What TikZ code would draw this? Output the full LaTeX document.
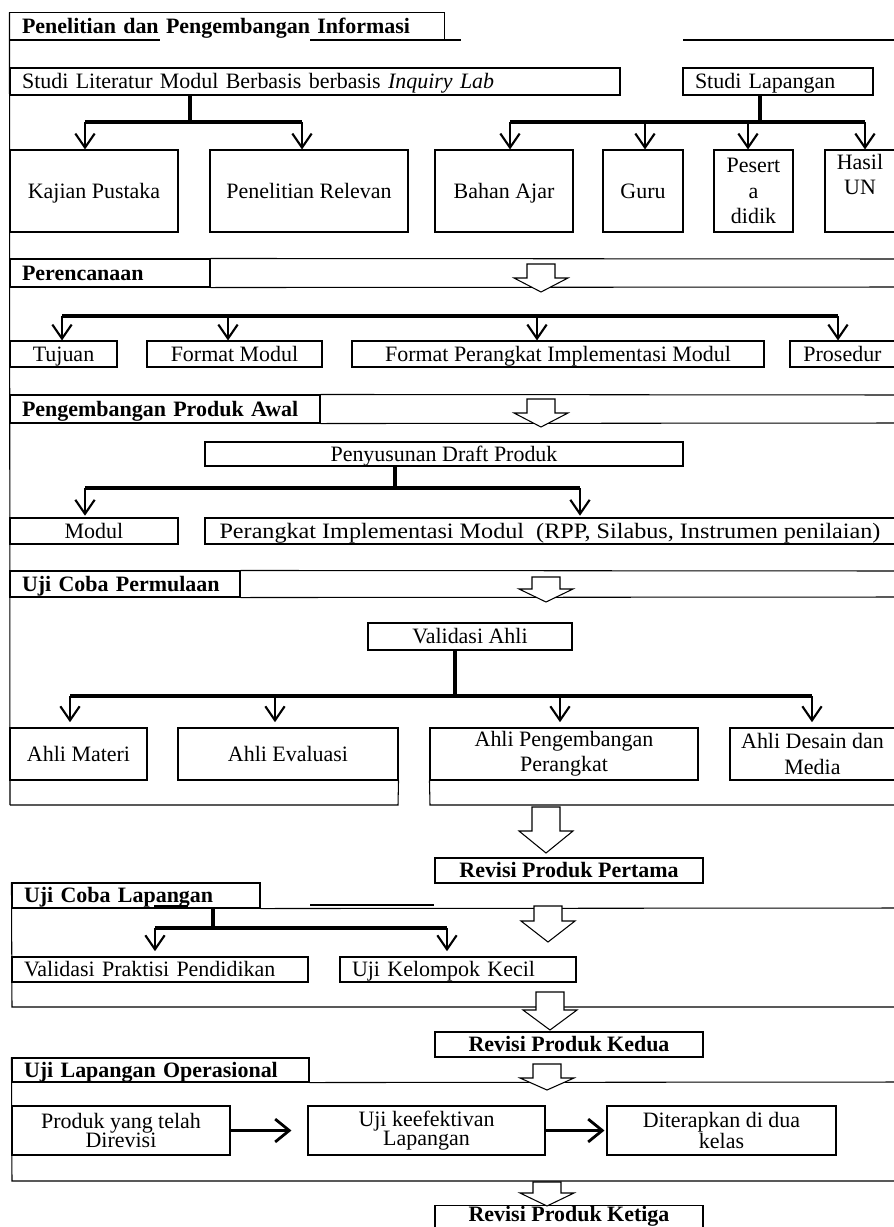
\documentclass[tikz,border=0pt]{standalone}
\usepackage{fontspec}
\setmainfont{Liberation Serif}
\usetikzlibrary{arrows.meta, positioning}

\newcommand{\hollowdown}[4]{%
    \draw[hollow] (#1-14,#2) -- (#1+14,#2) -- (#1+14,#3) -- (#1+27,#3) -- (#1,#4) -- (#1-27,#3) -- (#1-14,#3) -- cycle;}

\begin{document}
\begin{tikzpicture}[x=0.02cm, y=-0.02cm,
        cell/.style={draw, line width=0.6pt, inner sep=1pt, align=center, font=\fontsize{12.5}{14.5}\selectfont},
        box/.style={cell, text height=8pt, text depth=0pt},
        mbox/.style={cell},
        lbox/.style={box, align=left, inner xsep=0.24cm},
        head/.style={lbox, font=\fontsize{12.5}{14.5}\selectfont\bfseries},
        tight/.style={font=\fontsize{12.5}{11}\selectfont},
        wh/.style 2 args={minimum width=#1*0.02cm, minimum height=#2*0.02cm},
        frame/.style={line width=0.6pt},
        bar/.style={line width=1.8pt},
        down/.style={line width=1.2pt, -{Straight Barb[length=8pt, width=11pt]}},
        harrow/.style={line width=1.6pt, -{Straight Barb[length=8pt, width=13pt]}},
        hollow/.style={draw, fill=white, line width=0.6pt, line join=miter}]
        \useasboundingbox (0,0) rectangle (893,1227);

        % Penelitian dan Pengembangan Informasi
        \node (info) [head, draw=none, wh={434}{27}, text width=8.2cm] at (227,26.5) {Penelitian dan Pengembangan Informasi};
        \draw[frame] (info.south west) |- (info.north east) -- (info.south east);
        \draw[frame] (info.north west) -- (10,805);
        \draw[frame] (10,40) -- (160,40) (310,40) -- (461,40) (683,40) -- (900,40);

        \node (studlit) [lbox, wh={610}{27}, text width=11.72cm] at (315,81.5) {Studi Literatur Modul Berbasis berbasis \textit{Inquiry Lab}};
        \node (studlap) [lbox, wh={190}{27}, text width=3.32cm] at (778,81.5) {Studi Lapangan};

        \node (kajian)  [box, wh={168}{82}]  at (94,191)    {Kajian Pustaka};
        \node (relevan) [box, wh={198}{82}]  at (309,191)   {Penelitian Relevan};
        \node (bahan)   [box, wh={138}{82}]  at (504,191)   {Bahan Ajar};
        \node (guru)    [box, wh={80}{82}]   at (643,191)   {Guru};
        \node (peserta) [mbox, wh={79}{82}]  at (753.5,191) {Pesert\\a\\didik};
        \node (hasil)   [mbox, wh={70}{82}]  at (860,191)   {Hasil\\UN\\\strut};

        \coordinate (litbar) at (190,122);
        \coordinate (lapbar) at (760,122);
        \draw[bar] (litbar |- studlit.south) -- (litbar);
        \draw[bar] (lapbar |- studlap.south) -- (lapbar);
        \draw[bar] (85,122) -- (302,122);
        \draw[bar] (510,122) -- (865,122);
        \foreach \x/\n in {85/kajian, 302/relevan, 510/bahan, 645/guru, 748/peserta, 865/hasil} {
            \coordinate (t) at (\x,122);
            \draw[down] (t) -- (t |- \n.north);
        }

        % Perencanaan
        \node (perenc) [head, wh={200}{28}, text width=3.52cm] at (110,273) {Perencanaan};
        \draw[frame] (perenc.north east) -- (900,259) (perenc.south east) -- (900,287);

        \node (tujuan)   [box, wh={107}{26}] at (63.5,354)  {Tujuan};
        \node (fmodul)   [box, wh={175}{26}] at (234.5,354) {Format Modul};
        \node (fperang)  [box, wh={412}{26}] at (558,354)   {Format Perangkat Implementasi Modul};
        \node (prosedur) [box, wh={105}{26}] at (842.5,354) {Prosedur};

        \draw[bar] (62,316) -- (838,316);
        \foreach \x/\n in {62/tujuan, 228/fmodul, 537/fperang, 838/prosedur} {
            \coordinate (t) at (\x,316);
            \draw[down] (t) -- (t |- \n.north);
        }

        % Pengembangan Produk Awal
        \node (pawal) [head, wh={310}{28}, text width=5.72cm] at (165,409) {Pengembangan Produk Awal};
        \draw[frame] (pawal.north east) -- (900,395) (pawal.south east) -- (900,423);

        \node (draft)   [box, wh={478}{24}] at (444,454) {Penyusunan Draft Produk};
        \node (modul)   [box, wh={168}{26}] at (94,531)  {Modul};
        \node (perang)  [box, wh={690}{26}] at (550,531) {\addfontfeatures{FakeStretch=1.1}Perangkat Implementasi Modul~~(RPP, Silabus, Instrumen penilaian)};

        \coordinate (draftbar) at (395,488);
        \draw[bar] (draftbar |- draft.south) -- (draftbar);
        \draw[bar] (85,488) -- (580,488);
        \foreach \x/\n in {85/modul, 580/perang} {
            \coordinate (t) at (\x,488);
            \draw[down] (t) -- ([yshift=1pt]t |- \n.north);
        }

        % Uji Coba Permulaan
        \node (permul) [head, wh={230}{26}, text width=4.12cm] at (125,584) {Uji Coba Permulaan};
        \draw[frame] (permul.north east) -- (900,571) (permul.south east) -- (900,597);

        \node (validasi) [box, wh={204}{27}]  at (470,636.5) {Validasi Ahli};
        \node (materi)   [box, wh={137}{52}]  at (78.5,754)  {Ahli Materi};
        \node (evaluasi) [box, wh={220}{52}]  at (288,754)   {Ahli Evaluasi};
        \node (pengemb)  [mbox, wh={268}{52}] at (564,754)   {Ahli Pengembangan\\Perangkat};
        \node (desain)   [mbox, wh={165}{52}] at (812.5,754) {Ahli Desain dan\\Media};

        \coordinate (valbar) at (455,696);
        \draw[bar] (valbar |- validasi.south) -- (valbar);
        \draw[bar] (70,696) -- (812,696);
        \foreach \x/\n in {70/materi, 275/evaluasi, 560/pengemb, 812/desain} {
            \coordinate (t) at (\x,696);
            \draw[down] (t) -- ([yshift=3pt]t |- \n.north);
        }
        \draw[frame] (evaluasi.south east) -- (398,805) -- (10,805);
        \draw[frame] (pengemb.south west) -- (430,805) -- (900,805);

        \node (revisi1) [box, wh={268}{25}, font=\fontsize{12.5}{14.5}\selectfont\bfseries] at (569,870.5) {Revisi Produk Pertama};

        % Uji Coba Lapangan
        \node (ujilap) [head, wh={248}{25}, text width=4.48cm] at (136,895.5) {Uji Coba Lapangan};
        \draw[frame] (ujilap.north west) -- (12,1007) -- (900,1007);
        \draw[frame] (ujilap.south east) -- (900,908);
        \draw[line width=1.2pt] (154,906) -- (188,906);
        \draw[line width=1.5pt] (310,905) -- (434,905);

        \node (praktisi) [lbox, wh={296}{25}, text width=5.44cm] at (160,969.5) {Validasi Praktisi Pendidikan};
        \node (kecil)    [lbox, wh={236}{25}, text width=4.24cm] at (458,969.5) {Uji Kelompok Kecil};

        \coordinate (lapbar2) at (213,928);
        \draw[bar] (lapbar2 |- ujilap.south) -- (lapbar2);
        \draw[bar] (155,928) -- (447,928);
        \foreach \x/\n in {155/praktisi, 447/kecil} {
            \coordinate (t) at (\x,928);
            \draw[down] (t) -- ([yshift=3pt]t |- \n.north);
        }

        \node (revisi2) [box, wh={268}{25}, font=\fontsize{12.5}{14.5}\selectfont\bfseries] at (569,1044.5) {Revisi Produk Kedua};

        % Uji Lapangan Operasional
        \node (ujiop) [head, wh={297}{24}, text width=5.46cm] at (160.5,1070) {Uji Lapangan Operasional};
        \draw[frame] (ujiop.north west) -- (12,1181) -- (900,1181);
        \draw[frame] (ujiop.south east) -- (900,1082);

        \node (produk) [mbox, tight, wh={218}{49}] at (121,1130.5)   {Produk yang telah\\Direvisi};
        \node (efektif)[mbox, tight, wh={237}{49}] at (426.5,1130.5) {Uji keefektivan\\Lapangan};
        \node (terap)  [mbox, tight, wh={229}{49}] at (721.5,1130.5) {Diterapkan di dua\\kelas};
        \draw[harrow, shorten >=0.32cm] (produk) -- (efektif);
        \draw[harrow, shorten >=0.04cm] (efektif) -- (terap);

        \node (revisi3) [box, wh={268}{22}, text depth=3pt, font=\fontsize{12.5}{14.5}\selectfont\bfseries] at (569,1217) {Revisi Produk Ketiga};

        % hollow arrows
        \hollowdown{541}{264}{278}{292}
        \hollowdown{541}{399}{413}{427}
        \hollowdown{546}{577}{589}{602}
        \hollowdown{546}{807}{831}{853}
        \hollowdown{548}{906}{921}{942}
        \hollowdown{550}{992}{1010}{1030}
        \hollowdown{547}{1064}{1078}{1090}
        \hollowdown{547}{1182}{1193}{1206}
\end{tikzpicture}
\end{document}
